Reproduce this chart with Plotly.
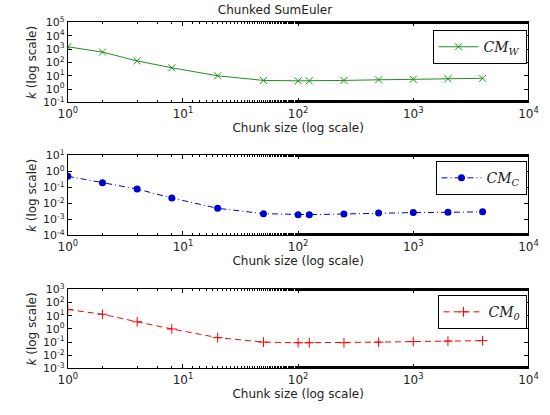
import plotly.graph_objects as go

chunk_sizes = [1, 2, 4, 8, 20, 50, 100, 125, 250, 500, 1000, 2000, 4000]
cm_w = [1500, 600, 130, 40, 10, 4.5, 4.2, 4.2, 4.5, 5.0, 5.5, 6.0, 6.5]
cm_c = [0.5, 0.2, 0.08, 0.022, 0.005, 0.0023, 0.002, 0.002, 0.0022, 0.0025, 0.0027, 0.0028, 0.003]
cm_0 = [30, 13, 3.5, 1.0, 0.22, 0.1, 0.09, 0.09, 0.09, 0.1, 0.11, 0.12, 0.13]

x_tickvals = [1, 10, 100, 1000, 10000]
x_ticktext = ["10<sup>0</sup>", "10<sup>1</sup>", "10<sup>2</sup>", "10<sup>3</sup>", "10<sup>4</sup>"]
y_exp_top = [-1, 0, 1, 2, 3, 4, 5]
y_exp_mid = [-4, -3, -2, -1, 0, 1]
y_exp_bot = [-3, -2, -1, 0, 1, 2, 3]

W, H = 550, 415
font_family = "DejaVu Sans"

fig = go.Figure()
fig.add_trace(go.Scatter(x=chunk_sizes, y=cm_w, mode="lines+markers",
                         name="<i>CM<sub>W</sub></i>",
                         line=dict(color="#1f8f1f", width=1),
                         marker=dict(symbol="x-thin", size=7, line=dict(color="#1f8f1f", width=1)),
                         xaxis="x", yaxis="y", legend="legend"))
fig.add_trace(go.Scatter(x=chunk_sizes, y=cm_c, mode="lines+markers",
                         name="<i>CM<sub>C</sub></i>",
                         line=dict(color="#0000cc", width=1, dash="6px,3px,1px,3px"),
                         marker=dict(symbol="circle", size=7, color="#0000cc"),
                         xaxis="x2", yaxis="y2", legend="legend2"))
fig.add_trace(go.Scatter(x=chunk_sizes, y=cm_0, mode="lines+markers",
                         name="<i>CM<sub>0</sub></i>",
                         line=dict(color="#ff0000", width=1, dash="6px,4px"),
                         marker=dict(symbol="cross-thin", size=7, line=dict(color="#ff0000", width=1)),
                         xaxis="x3", yaxis="y3", legend="legend3"))

def py(px):
    return 1 - px / H

xdom = [60 / W, 538 / W]
panels = [(15, 98, y_exp_top), (153, 236, y_exp_mid), (292, 374, y_exp_bot)]

common_axis = dict(showline=True, linecolor="black", linewidth=1, mirror="ticks",
                   ticks="inside", ticklen=4, tickcolor="black", showgrid=False,
                   zeroline=False)

for i, (top, bot, exps) in enumerate(panels):
    sfx = "" if i == 0 else str(i + 1)
    fig.layout["xaxis" + sfx] = dict(
        type="log", domain=xdom, anchor="y" + sfx, range=[0, 4],
        tickvals=x_tickvals, ticktext=x_ticktext,
        tickfont=dict(family=font_family, size=12, color="#222"),
        minor=dict(ticks="inside", ticklen=2, tickcolor="black", showgrid=False),
        title=dict(text="Chunk size (log scale)", font=dict(family=font_family, size=12, color="#222"), standoff=3),
        **common_axis)
    fig.layout["yaxis" + sfx] = dict(
        type="log", domain=[py(bot), py(top)], anchor="x" + sfx,
        range=[exps[0], exps[-1]],
        tickvals=[10 ** e for e in exps],
        ticktext=["10<sup>%d</sup>" % e for e in exps],
        tickfont=dict(family=font_family, size=11, color="#222"),
        title=dict(text="<i>k</i> (log scale)", font=dict(family=font_family, size=12, color="#222"), standoff=3),
        **common_axis)

legend_style = dict(bordercolor="black", borderwidth=1, bgcolor="white",
                    font=dict(family="DejaVu Serif", size=14, color="#222"),
                    itemwidth=40,
                    xanchor="right", yanchor="top", x=536 / W)
fig.update_layout(
    legend=dict(y=py(23), **legend_style),
    legend2=dict(y=py(159), **legend_style),
    legend3=dict(y=py(298), **legend_style),
)

fig.update_layout(
    width=W, height=H,
    margin=dict(l=0, r=0, t=0, b=0),
    paper_bgcolor="white", plot_bgcolor="white",
    title=dict(text="Chunked SumEuler", x=0.5, xanchor="center", y=py(10), yanchor="middle",
               font=dict(family=font_family, size=12, color="#222")),
    showlegend=True,
)

fig.write_html("out.html")
